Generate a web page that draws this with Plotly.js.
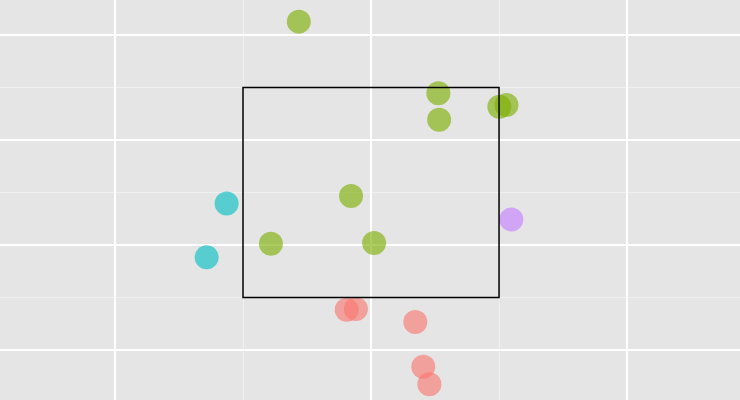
<!DOCTYPE html>
<html>
<head>
<meta charset="utf-8">
<script src="https://cdn.plot.ly/plotly-3.0.1.min.js"></script>
<style>html,body{margin:0;padding:0;background:#E5E5E5;}#chart{width:740px;height:400px;}</style>
</head>
<body>
<div id="chart"></div>
<script>
// Groups and point values (data units)
const groups = ["A", "B", "C", "D"];
const colors = ["#F8766D", "#7CAE00", "#00BFC4", "#C77CFF"];
const xA = [0.905, 0.941, 1.173, 1.204, 1.228];
const yA = [0.384, 0.390, 0.267, -0.159, -0.327];
const xB = [0.718, 1.263, 1.266, 1.501, 1.529, 0.922, 0.609, 1.012];
const yB = [3.127, 2.445, 2.193, 2.317, 2.333, 1.467, 1.012, 1.019];
const xC = [0.436, 0.358];
const yC = [1.395, 0.883];
const xD = [1.548];
const yD = [1.243];
// Rectangle bounds
const rectX = [0.5, 1.5];
const rectY = [0.5, 2.5];

const xs = [xA, xB, xC, xD];
const ys = [yA, yB, yC, yD];

const traces = groups.map((g, i) => ({
  type: "scatter",
  mode: "markers",
  name: g,
  x: xs[i],
  y: ys[i],
  marker: { color: colors[i], size: 24, opacity: 0.62, line: { width: 0 } },
  hoverinfo: "x+y"
}));

const layout = {
  width: 740,
  height: 400,
  margin: { l: 0, r: 0, t: 0, b: 0, pad: 0 },
  paper_bgcolor: "#E5E5E5",
  plot_bgcolor: "#E5E5E5",
  showlegend: false,
  xaxis: {
    range: [-0.449, 2.441],
    dtick: 1, tick0: 0,
    showgrid: true, gridcolor: "#FFFFFF", gridwidth: 1.6,
    zeroline: false, showticklabels: false, ticks: "",
    minor: { dtick: 0.5, tick0: 0, showgrid: true, gridcolor: "#F2F2F2", gridwidth: 0.8 }
  },
  yaxis: {
    range: [-0.476, 3.333],
    dtick: 1, tick0: 0,
    showgrid: true, gridcolor: "#FFFFFF", gridwidth: 1.6,
    zeroline: false, showticklabels: false, ticks: "",
    minor: { dtick: 0.5, tick0: 0, showgrid: true, gridcolor: "#F2F2F2", gridwidth: 0.8 }
  },
  shapes: [{
    type: "rect", xref: "x", yref: "y",
    x0: rectX[0], x1: rectX[1], y0: rectY[0], y1: rectY[1],
    line: { color: "#000000", width: 1.5 },
    fillcolor: "rgba(0,0,0,0)",
    layer: "above"
  }]
};

Plotly.newPlot("chart", traces, layout, { displayModeBar: false, staticPlot: true });
</script>
</body>
</html>
